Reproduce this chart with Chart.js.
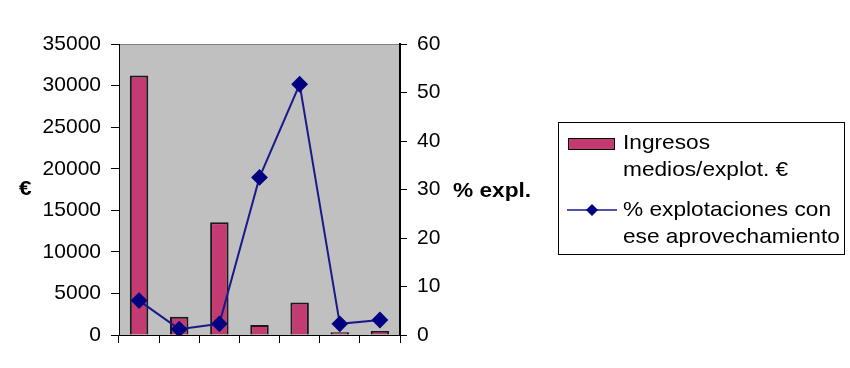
<!DOCTYPE html>
<html>
<head>
<meta charset="utf-8">
<script src="https://cdn.jsdelivr.net/npm/chart.js@4"></script>
<style>
  body { margin: 0; background: #fff; font-family: "Liberation Sans", Arial, sans-serif; }
  #wrap { position: relative; width: 850px; height: 368px; }
  .axt { position: absolute; font-weight: bold; font-size: 21px; color: #000; line-height: 21px;
         transform: scaleX(1.08); transform-origin: left center; }
  #legend { position: absolute; left: 558px; top: 122px; width: 287px; height: 133px;
            border: 1px solid #000; box-sizing: border-box; font-size: 21px; line-height: 27px; color: #000; }
  .item { position: absolute; left: 64px; white-space: nowrap; transform: scaleX(1.08); transform-origin: left top; }
</style>
</head>
<body>
<div id="wrap">
  <canvas id="c" width="850" height="368"></canvas>
  <div class="axt" style="left:19px; top:177px;">€</div>
  <div class="axt" style="left:453px; top:179px;">% expl.</div>
  <div id="legend">
    <div style="position:absolute; left:9px; top:15px; width:45px; height:10px; background:#c33b70; border:1px solid #000;"></div>
    <div class="item" style="top:5px;">Ingresos<br>medios/explot. €</div>
    <svg style="position:absolute; left:8px; top:79px;" width="50" height="16">
      <line x1="0" y1="8" x2="50" y2="8" stroke="#1a1a8c" stroke-width="1.5"/>
      <polygon points="25,2 31,8 25,14 19,8" fill="#000080"/>
    </svg>
    <div class="item" style="top:72px;">% explotaciones con<br>ese aprovechamiento</div>
  </div>
</div>
<script>
// categories have no visible labels in the original
const categories = ["1", "2", "3", "4", "5", "6", "7"];
const ingresos = [31200, 2200, 13550, 1200, 3900, 320, 480];
const pctExpl = [7.1, 1.2, 2.3, 32.5, 51.7, 2.3, 3.1];

const plotBg = {
  id: "plotBg",
  beforeDraw(chart) {
    const a = chart.chartArea, ctx = chart.ctx;
    ctx.save();
    ctx.fillStyle = "#c0c0c0";
    ctx.fillRect(a.left, a.top, a.right - a.left, a.bottom - a.top);
    ctx.strokeStyle = "#808080";
    ctx.lineWidth = 1;
    ctx.beginPath();
    ctx.moveTo(a.left, a.top + 0.5);
    ctx.lineTo(a.right, a.top + 0.5);
    ctx.stroke();
    ctx.restore();
  }
};

Chart.defaults.font.family = "'Liberation Sans', Arial, sans-serif";
Chart.defaults.font.size = 21;
Chart.defaults.color = "#000";

new Chart(document.getElementById("c"), {
  data: {
    labels: categories,
    datasets: [
      {
        type: "line",
        label: "% explotaciones con ese aprovechamiento",
        data: pctExpl,
        yAxisID: "y2",
        borderColor: "#1a1a8c",
        borderWidth: 2,
        pointStyle: "rectRot",
        pointRadius: 7,
        pointBackgroundColor: "#000080",
        pointBorderColor: "#000080",
        order: 0
      },
      {
        type: "bar",
        label: "Ingresos medios/explot. €",
        data: ingresos,
        yAxisID: "y",
        backgroundColor: "#c33b70",
        borderColor: "#1a1a1a",
        borderWidth: 2,
        barPercentage: 0.46,
        categoryPercentage: 1,
        order: 1
      }
    ]
  },
  options: {
    responsive: false,
    animation: false,
    layout: { padding: { left: 0, right: 390, top: 44, bottom: 23 } },
    plugins: { legend: { display: false }, tooltip: { enabled: false } },
    scales: {
      x: {
        offset: true,
        ticks: { display: false },
        grid: { drawOnChartArea: false, tickLength: 8, color: "#000", offset: true },
        border: { color: "#000" },
        afterFit(s) { s.height = 10; }
      },
      y: {
        position: "left",
        min: 0, max: 35000,
        ticks: { stepSize: 5000, padding: 10, callback: v => String(v) },
        grid: { drawOnChartArea: false, tickLength: 8, color: "#000" },
        border: { color: "#000" },
        afterFit(s) { s.width = 119; }
      },
      y2: {
        position: "right",
        min: 0, max: 60,
        ticks: { stepSize: 10, padding: 10, callback: v => String(v) },
        grid: { drawOnChartArea: false, tickLength: 7, color: "#000" },
        border: { color: "#000", width: 2 },
        afterFit(s) { s.width = 60; }
      }
    }
  },
  plugins: [plotBg]
});
</script>
</body>
</html>
